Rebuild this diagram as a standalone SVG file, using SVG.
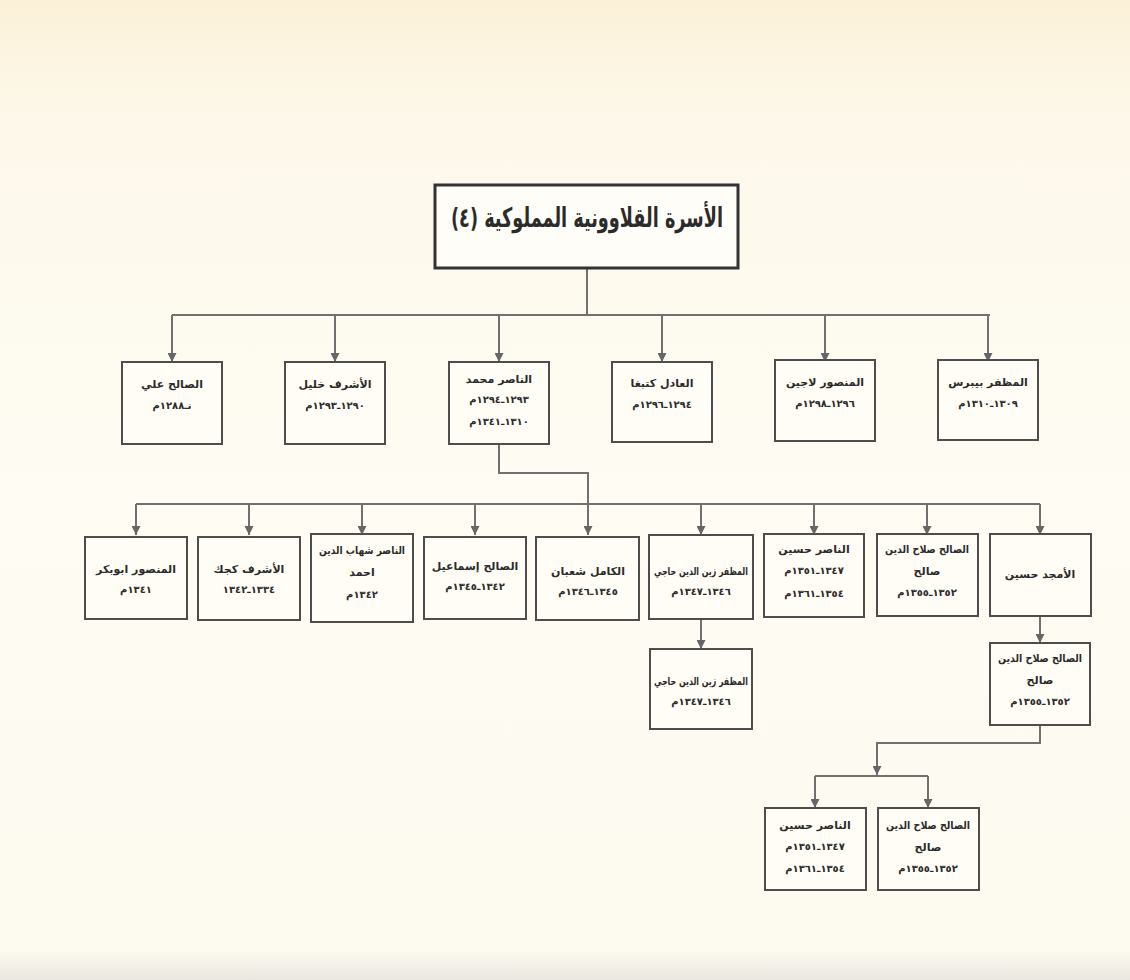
<svg xmlns="http://www.w3.org/2000/svg" width="1130" height="980" viewBox="0 0 1130 980">
<defs>
<linearGradient id="bg" x1="0" y1="0" x2="0" y2="1">
<stop offset="0" stop-color="#fbf1d8"/>
<stop offset="0.12" stop-color="#fdf8ea"/>
<stop offset="0.5" stop-color="#fefcf3"/>
<stop offset="0.97" stop-color="#fdfaf0"/>
<stop offset="1" stop-color="#e9e7e0"/>
</linearGradient>
<marker id="arr" viewBox="0 0 10 10" refX="10" refY="5" markerWidth="9" markerHeight="9" markerUnits="userSpaceOnUse" orient="auto">
<path d="M0,0 L10,5 L0,10 z" fill="#666"/>
</marker>
<style>
.box{fill:#fffdf6;stroke:#4d4d4d;stroke-width:2}
.title{fill:#fffdf7;stroke:#333;stroke-width:3}
.ln{fill:none;stroke:#707070;stroke-width:2}
.ar{fill:none;stroke:#707070;stroke-width:2;marker-end:url(#arr)}
text{font-family:"DejaVu Sans",sans-serif;fill:#2b2b2b;text-anchor:middle;direction:rtl;font-weight:bold}
.n{font-size:11px}
.d{font-size:10px}
.t{font-size:27px}
</style>
</defs>
<rect x="0" y="0" width="1130" height="980" fill="url(#bg)"/>

<g id="connectors">
<path class="ln" d="M587,268 V315"/>
<path class="ln" d="M172,315 H990"/>
<path class="ar" d="M172,315 V362"/>
<path class="ar" d="M335,315 V362"/>
<path class="ar" d="M499,315 V362"/>
<path class="ar" d="M662,315 V362"/>
<path class="ar" d="M825,315 V362"/>
<path class="ar" d="M988,315 V362"/>
<path class="ar" d="M499,444 V473 H588 V535"/>
<path class="ln" d="M136,504 H1040"/>
<path class="ar" d="M136,504 V535"/>
<path class="ar" d="M249,504 V535"/>
<path class="ar" d="M362,504 V535"/>
<path class="ar" d="M475,504 V535"/>
<path class="ar" d="M701,504 V535"/>
<path class="ar" d="M814,504 V535"/>
<path class="ar" d="M927,504 V535"/>
<path class="ar" d="M1040,504 V535"/>
<path class="ar" d="M701,619 V649"/>
<path class="ar" d="M1040,617 V643"/>
<path class="ar" d="M1040,725 V743 H877 V775"/>
<path class="ln" d="M815,776 H928"/>
<path class="ar" d="M815,776 V808"/>
<path class="ar" d="M928,776 V808"/>
</g>

<g id="title">
<rect class="title" x="435" y="185" width="303" height="83"/>
<text class="t" x="587" y="227" textLength="272" lengthAdjust="spacingAndGlyphs">الأسرة القلاوونية المملوكية (٤)</text>
</g>

<g id="n-salih-ali">
<rect class="box" x="122" y="362" width="100" height="82"/>
<text class="n" x="172" y="388">الصالح علي</text>
<text class="d" x="172" y="409">تـ١٢٨٨م</text>
</g>
<g id="n-ashraf-khalil">
<rect class="box" x="285" y="362" width="100" height="82"/>
<text class="n" x="335" y="388">الأشرف خليل</text>
<text class="d" x="335" y="409">١٢٩٠ـ١٢٩٣م</text>
</g>
<g id="n-nasir-muhammad">
<rect class="box" x="449" y="362" width="100" height="82"/>
<text class="n" x="499" y="383">الناصر محمد</text>
<text class="d" x="499" y="403">١٢٩٣ـ١٢٩٤م</text>
<text class="d" x="499" y="425">١٣١٠ـ١٣٤١م</text>
</g>
<g id="n-adil-kitbugha">
<rect class="box" x="612" y="362" width="100" height="80"/>
<text class="n" x="662" y="387">العادل كتبغا</text>
<text class="d" x="662" y="408">١٢٩٤ـ١٢٩٦م</text>
</g>
<g id="n-mansur-lajin">
<rect class="box" x="775" y="360" width="100" height="81"/>
<text class="n" x="825" y="386">المنصور لاجين</text>
<text class="d" x="825" y="407">١٢٩٦ـ١٢٩٨م</text>
</g>
<g id="n-muzaffar-baybars">
<rect class="box" x="938" y="360" width="100" height="80"/>
<text class="n" x="988" y="386">المظفر بيبرس</text>
<text class="d" x="988" y="407">١٣٠٩ـ١٣١٠م</text>
</g>

<g id="n-mansur-abubakr">
<rect class="box" x="85" y="537" width="102" height="82"/>
<text class="n" x="136" y="573">المنصور ابوبكر</text>
<text class="d" x="136" y="593">١٣٤١م</text>
</g>
<g id="n-ashraf-kujuk">
<rect class="box" x="198" y="537" width="102" height="83"/>
<text class="n" x="249" y="573">الأشرف كجك</text>
<text class="d" x="249" y="593">١٣٣٤ـ١٣٤٢</text>
</g>
<g id="n-nasir-ahmad">
<rect class="box" x="311" y="534" width="102" height="88"/>
<text class="n" x="362" y="554" textLength="86" lengthAdjust="spacingAndGlyphs">الناصر شهاب الدين</text>
<text class="n" x="362" y="576">احمد</text>
<text class="d" x="362" y="598">١٣٤٢م</text>
</g>
<g id="n-salih-ismail">
<rect class="box" x="424" y="537" width="102" height="82"/>
<text class="n" x="475" y="570">الصالح إسماعيل</text>
<text class="d" x="475" y="590">١٣٤٢ـ١٣٤٥م</text>
</g>
<g id="n-kamil-shaban">
<rect class="box" x="536" y="537" width="103" height="83"/>
<text class="n" x="588" y="575">الكامل شعبان</text>
<text class="d" x="588" y="595">١٣٤٥ـ١٣٤٦م</text>
</g>
<g id="n-muzaffar-hajji">
<rect class="box" x="649" y="535" width="104" height="84"/>
<text class="n" x="701" y="575" textLength="94" lengthAdjust="spacingAndGlyphs">المظفر زين الدين حاجي</text>
<text class="d" x="701" y="595">١٣٤٦ـ١٣٤٧م</text>
</g>
<g id="n-nasir-hasan">
<rect class="box" x="764" y="534" width="100" height="83"/>
<text class="n" x="814" y="553">الناصر حسين</text>
<text class="d" x="814" y="574">١٣٤٧ـ١٣٥١م</text>
<text class="d" x="814" y="597">١٣٥٤ـ١٣٦١م</text>
</g>
<g id="n-salih-salih">
<rect class="box" x="877" y="534" width="101" height="82"/>
<text class="n" x="927" y="553" textLength="84" lengthAdjust="spacingAndGlyphs">الصالح صلاح الدين</text>
<text class="n" x="927" y="575">صالح</text>
<text class="d" x="927" y="596">١٣٥٢ـ١٣٥٥م</text>
</g>
<g id="n-amjad-husayn">
<rect class="box" x="990" y="534" width="101" height="82"/>
<text class="n" x="1040" y="578">الأمجد حسين</text>
</g>

<g id="n-muzaffar-hajji-2">
<rect class="box" x="650" y="649" width="102" height="80"/>
<text class="n" x="701" y="685" textLength="94" lengthAdjust="spacingAndGlyphs">المظفر زين الدين حاجي</text>
<text class="d" x="701" y="705">١٣٤٦ـ١٣٤٧م</text>
</g>
<g id="n-salih-salih-2">
<rect class="box" x="990" y="643" width="100" height="82"/>
<text class="n" x="1040" y="662" textLength="84" lengthAdjust="spacingAndGlyphs">الصالح صلاح الدين</text>
<text class="n" x="1040" y="684">صالح</text>
<text class="d" x="1040" y="705">١٣٥٢ـ١٣٥٥م</text>
</g>
<g id="n-nasir-hasan-2">
<rect class="box" x="765" y="808" width="101" height="82"/>
<text class="n" x="815" y="829">الناصر حسين</text>
<text class="d" x="815" y="850">١٣٤٧ـ١٣٥١م</text>
<text class="d" x="815" y="872">١٣٥٤ـ١٣٦١م</text>
</g>
<g id="n-salih-salih-3">
<rect class="box" x="878" y="808" width="101" height="82"/>
<text class="n" x="928" y="829" textLength="84" lengthAdjust="spacingAndGlyphs">الصالح صلاح الدين</text>
<text class="n" x="928" y="851">صالح</text>
<text class="d" x="928" y="872">١٣٥٢ـ١٣٥٥م</text>
</g>
</svg>
